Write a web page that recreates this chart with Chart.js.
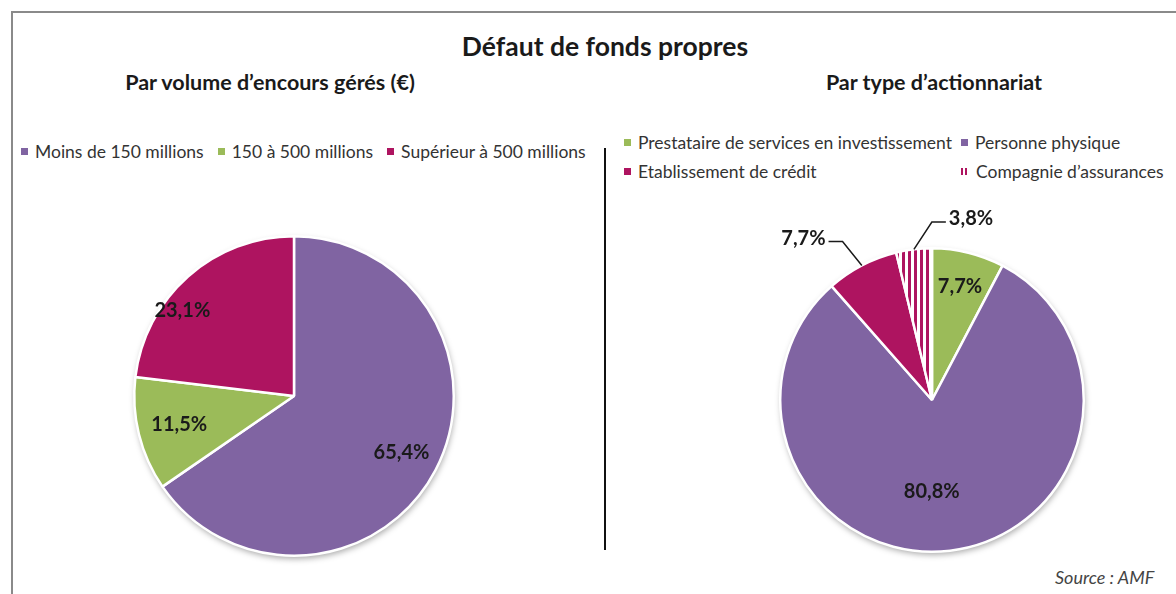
<!DOCTYPE html>
<html>
<head>
<meta charset="utf-8">
<script src="https://cdn.jsdelivr.net/npm/chart.js@4"></script>
<style>
  body { margin: 0; width: 1176px; height: 594px; overflow: hidden; background: #fff; font-family: Lato, "Open Sans", sans-serif; color: #1a1a1a; }
  .frame { position: absolute; left: 11px; top: 11px; width: 1300px; height: 700px; border: 2px solid #8a8a8a; box-sizing: border-box; }
  .txt { position: absolute; white-space: nowrap; }
  .title { top: 30px; left: 0; width: 1210px; text-align: center; font-weight: bold; font-size: 26.5px; }
  .sub { top: 69px; font-weight: bold; font-size: 21.5px; text-align: center; }
  .legend { position: absolute; font-size: 17.5px; color: #333; white-space: nowrap; }
  .legend span.item { display: inline-flex; align-items: center; }
  .legend i { display: inline-block; width: 7px; height: 7px; margin-right: 7px; }
  .divider { position: absolute; left: 604px; top: 148px; width: 2px; height: 402px; background: #111; }
  .source { position: absolute; left: 1055px; top: 566px; font-style: italic; font-size: 18px; color: #444; }
  canvas { position: absolute; }
</style>
</head>
<body>
<div class="frame"></div>
<div class="txt title">Défaut de fonds propres</div>
<div class="txt sub" style="left:70px;width:400px">Par volume d’encours gérés (€)</div>
<div class="txt sub" style="left:734px;width:400px">Par type d’actionnariat</div>
<div class="legend" id="legendLeft" style="left:21px;top:137px"></div>
<div class="legend" id="legendRight" style="left:624px;top:128px"></div>
<div class="divider"></div>
<div class="source">Source : AMF</div>
<canvas id="pieLeft" width="360" height="360" style="left:114px;top:216px"></canvas>
<canvas id="pieRight" width="420" height="400" style="left:722px;top:200px"></canvas>
<script>
// left chart: by assets under management
const volumeLabels = ['Moins de 150 millions', '150 à 500 millions', 'Supérieur à 500 millions'];
const volumeValues = [65.4, 11.5, 23.1];

// right chart: by shareholder type
const ownerLabels = ['Prestataire de services en investissement', 'Personne physique', 'Etablissement de crédit', 'Compagnie d’assurances'];
const ownerValues = [7.7, 80.8, 7.7, 3.8];

const purple = '#8064a2', green = '#9bbb59', magenta = '#ae1460';

// vertical stripes for the insurance slice
function stripes() {
  const c = document.createElement('canvas');
  c.width = 6; c.height = 6;
  const g = c.getContext('2d');
  g.fillStyle = '#fff'; g.fillRect(0, 0, 6, 6);
  g.fillStyle = magenta; g.fillRect(0, 0, 3, 6);
  return g.createPattern(c, 'repeat');
}
const stripePattern = stripes();

const volumeColors = [purple, green, magenta];
const ownerColors = [green, purple, magenta, stripePattern];

function legendHtml(el, labels, swatches, cols) {
  el.innerHTML = labels.map((l, i) => {
    const sw = swatches[i] === 'stripes'
      ? '<i style="width:8px;background:repeating-linear-gradient(90deg,' + magenta + ' 0 2px,#fff 2px 4px)"></i>'
      : '<i style="background:' + swatches[i] + '"></i>';
    const w = cols ? 'width:' + cols[i % cols.length] + 'px;' : 'margin-right:14px;';
    return '<span class="item" style="' + w + 'height:29px">' + sw + l + '</span>';
  }).join('');
  if (cols) { el.style.width = '700px'; el.style.display = 'flex'; el.style.flexWrap = 'wrap'; }
}
legendHtml(document.getElementById('legendLeft'), volumeLabels, volumeColors);
legendHtml(document.getElementById('legendRight'), ownerLabels, [green, purple, magenta, 'stripes'], [337, 300]);

const fmt = v => v.toFixed(1).replace('.', ',') + '%';

// soft shadow under the pie + percent labels with optional leader lines
const pieExtras = {
  id: 'pieExtras',
  beforeDatasetsDraw(chart) {
    const a = chart.getDatasetMeta(0).data[0];
    const ctx = chart.ctx;
    ctx.save();
    ctx.shadowColor = 'rgba(0,0,0,0.35)';
    ctx.shadowBlur = 6;
    ctx.shadowOffsetX = 1;
    ctx.shadowOffsetY = 3;
    ctx.fillStyle = '#fff';
    ctx.beginPath();
    ctx.arc(a.x, a.y, a.outerRadius, 0, Math.PI * 2);
    ctx.fill();
    ctx.restore();
  },
  afterDatasetsDraw(chart, args, opts) {
    const ctx = chart.ctx;
    const meta = chart.getDatasetMeta(0);
    const data = chart.data.datasets[0].data;
    ctx.save();
    ctx.font = 'bold 20px Lato';
    ctx.fillStyle = '#1a1a1a';
    ctx.textAlign = 'center';
    ctx.textBaseline = 'middle';
    meta.data.forEach((arc, i) => {
      const p = opts.place[i];
      const mid = (arc.startAngle + arc.endAngle) / 2;
      const ang = mid + (p.turn || 0) * Math.PI / 180;
      const x = arc.x + Math.cos(ang) * arc.outerRadius * p.r;
      const y = arc.y + Math.sin(ang) * arc.outerRadius * p.r;
      const text = fmt(data[i]);
      if (p.leader) {
        const ex = arc.x + Math.cos(mid) * arc.outerRadius;
        const ey = arc.y + Math.sin(mid) * arc.outerRadius;
        const half = ctx.measureText(text).width / 2 + 3;
        const side = x < ex ? 1 : -1;
        const sx = x + side * half;
        ctx.strokeStyle = '#1a1a1a';
        ctx.lineWidth = 1.5;
        ctx.beginPath();
        ctx.moveTo(sx, y + 3);
        ctx.lineTo(sx + side * 14, y + 3);
        ctx.lineTo(ex, ey);
        ctx.stroke();
      }
      ctx.fillText(text, x, y);
    });
    ctx.restore();
  }
};

function pie(id, labels, values, colors, padding, place) {
  return new Chart(document.getElementById(id), {
    type: 'pie',
    data: {
      labels: labels,
      datasets: [{
        data: values,
        backgroundColor: colors,
        borderColor: '#fff',
        borderWidth: 2.5
      }]
    },
    options: {
      responsive: false,
      animation: false,
      layout: { padding: padding },
      plugins: {
        legend: { display: false },
        tooltip: { enabled: false },
        pieExtras: { place: place }
      }
    },
    plugins: [pieExtras]
  });
}

function build() {
  pie('pieLeft', volumeLabels, volumeValues, volumeColors, 19,
    [{ r: 0.76 }, { r: 0.74 }, { r: 0.88, turn: -11 }]);
  pie('pieRight', ownerLabels, ownerValues, ownerColors,
    { left: 57, right: 57, top: 47, bottom: 47 },
    [{ r: 0.77 }, { r: 0.6, turn: 7 }, { r: 1.36, turn: -11, leader: true }, { r: 1.22, turn: 19, leader: true }]);
}

// make sure the bold face is ready before the canvas text is drawn
document.fonts.load('bold 20px Lato').then(build, build);
</script>
</body>
</html>
